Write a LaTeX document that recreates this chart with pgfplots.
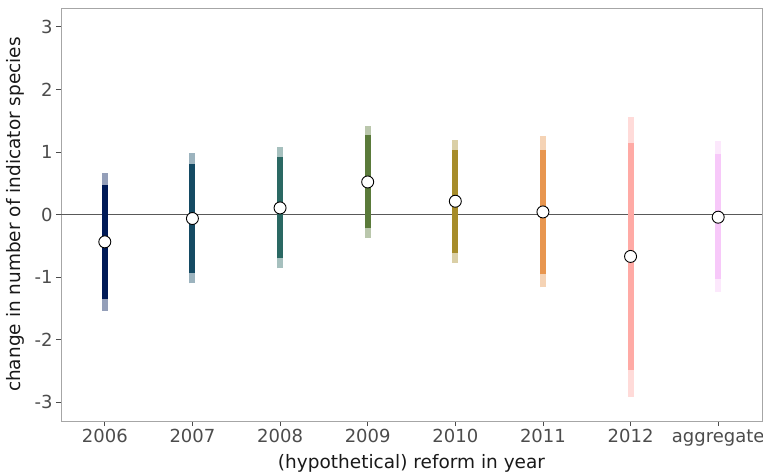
\documentclass[border=0pt]{standalone}
\usepackage{fontspec}
\setmainfont{DejaVu Sans}
\usepackage{pgfplots}
\pgfplotsset{compat=1.18}
\definecolor{c1}{HTML}{001A57}
\definecolor{c2}{HTML}{144A63}
\definecolor{c3}{HTML}{2A6863}
\definecolor{c4}{HTML}{5A7A3A}
\definecolor{c5}{HTML}{A68C2A}
\definecolor{c6}{HTML}{E8964F}
\definecolor{c7}{HTML}{FFAAA5}
\definecolor{c8}{HTML}{F7C8F9}
\begin{document}
\begin{tikzpicture}
\begin{axis}[name=ax,
  scale only axis, width=701bp, height=413bp,
  xmin=-0.5, xmax=7.5, ymin=-3.3, ymax=3.3,
  xtick={0,...,7},
  xticklabels={2006,2007,2008,2009,2010,2011,2012,aggregate},
  ytick={-3,...,3},
  tick align=outside, major tick length=5bp,
  axis line style={black!35, line width=0.8bp},
  tick style={black!70, line width=0.8bp},
  ticklabel style={font=\fontsize{18bp}{21bp}\selectfont, text=black!70},
  /pgf/number format/assume math mode=true,
  xtick pos=bottom, ytick pos=left,
  xlabel={(hypothetical) reform in year},
  ylabel={change in number of indicator species},
  label style={font=\fontsize{18.5bp}{22bp}\selectfont, text=black!90},
  xlabel style={at={(axis description cs:0.5,-0.1017)}, anchor=center},
  ylabel style={at={(axis description cs:-0.0656,0.5)}, anchor=center},
  clip=false,
]
\addplot[black!65, line width=1.4bp] coordinates {(-0.5,0) (7.5,0)};
% outer intervals
\addplot[c1, opacity=0.42, line width=6bp] coordinates {(0,-1.538) (0,0.664)};
\addplot[c2, opacity=0.42, line width=6bp] coordinates {(1,-1.101) (1,0.983)};
\addplot[c3, opacity=0.42, line width=6bp] coordinates {(2,-0.862) (2,1.079)};
\addplot[c4, opacity=0.42, line width=6bp] coordinates {(3,-0.378) (3,1.409)};
\addplot[c5, opacity=0.42, line width=6bp] coordinates {(4,-0.772) (4,1.196)};
\addplot[c6, opacity=0.42, line width=6bp] coordinates {(5,-1.165) (5,1.249)};
\addplot[c7, opacity=0.42, line width=6bp] coordinates {(6,-2.910) (6,1.564)};
\addplot[c8, opacity=0.42, line width=6bp] coordinates {(7,-1.245) (7,1.170)};
% inner intervals
\addplot[c1, line width=6bp] coordinates {(0,-1.352) (0,0.479)};
\addplot[c2, line width=6bp] coordinates {(1,-0.932) (1,0.807)};
\addplot[c3, line width=6bp] coordinates {(2,-0.702) (2,0.914)};
\addplot[c4, line width=6bp] coordinates {(3,-0.223) (3,1.265)};
\addplot[c5, line width=6bp] coordinates {(4,-0.613) (4,1.026)};
\addplot[c6, line width=6bp] coordinates {(5,-0.957) (5,1.037)};
\addplot[c7, line width=6bp] coordinates {(6,-2.484) (6,1.143)};
\addplot[c8, line width=6bp] coordinates {(7,-1.027) (7,0.962)};
% point estimates
\addplot[only marks, mark=*, mark size=6bp, mark options={fill=white, draw=black, line width=0.9bp}]
  coordinates {(0,-0.437) (1,-0.064) (2,0.105) (3,0.520) (4,0.212) (5,0.041) (6,-0.670) (7,-0.043)};
\end{axis}
\pgfresetboundingbox
\path[use as bounding box] (ax.south west) ++(-61bp,-54bp) rectangle ++(763bp,475bp);
\end{tikzpicture}
\end{document}
